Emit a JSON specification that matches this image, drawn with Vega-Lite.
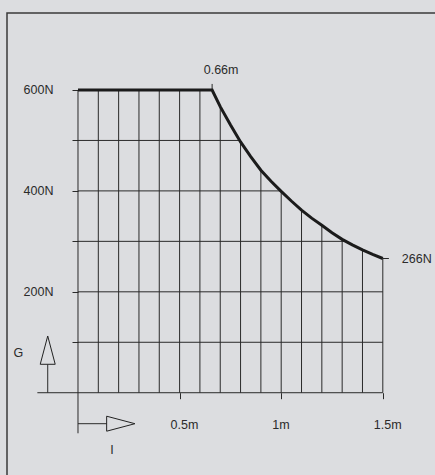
{
  "$schema": "https://vega.github.io/schema/vega-lite/v6.json",
  "width": 428,
  "height": 462,
  "autosize": {"type": "none"},
  "padding": {"left": 7, "top": 13, "right": 0, "bottom": 0},
  "background": "#dcdde0",
  "config": {
    "view": {"stroke": "#3a3a3a", "strokeWidth": 1.5, "strokeDash": [428, 890, 462, 100]},
    "font": "Liberation Sans",
    "text": {"font": "Liberation Sans", "fontSize": 12.5, "color": "#2b2b2b"}
  },
  "datasets": {
    "limit": [
      {"m": 0, "N": 600}, {"m": 0.66, "N": 600}, {"m": 0.7, "N": 567}, {"m": 0.75, "N": 531},
      {"m": 0.8, "N": 497}, {"m": 0.85, "N": 468}, {"m": 0.9, "N": 441}, {"m": 0.95, "N": 419},
      {"m": 1.0, "N": 399}, {"m": 1.05, "N": 380}, {"m": 1.1, "N": 362}, {"m": 1.15, "N": 346},
      {"m": 1.2, "N": 332}, {"m": 1.25, "N": 317}, {"m": 1.3, "N": 304}, {"m": 1.35, "N": 293},
      {"m": 1.4, "N": 283}, {"m": 1.45, "N": 274}, {"m": 1.5, "N": 266}
    ],
    "verticals": [
      {"m": 0, "N": -80.4, "top": 600}, {"m": 0.1, "N": 0, "top": 600}, {"m": 0.2, "N": 0, "top": 600},
      {"m": 0.3, "N": 0, "top": 600}, {"m": 0.4, "N": 0, "top": 600}, {"m": 0.5, "N": 0, "top": 600},
      {"m": 0.6, "N": 0, "top": 600}, {"m": 0.7, "N": 0, "top": 567}, {"m": 0.8, "N": 0, "top": 497},
      {"m": 0.9, "N": 0, "top": 441}, {"m": 1.0, "N": 0, "top": 399}, {"m": 1.1, "N": 0, "top": 362},
      {"m": 1.2, "N": 0, "top": 332}, {"m": 1.3, "N": 0, "top": 304}, {"m": 1.4, "N": 0, "top": 283},
      {"m": 1.5, "N": 0, "top": 266}, {"m": 0.66, "N": 600, "top": 612},
      {"m": -0.149, "N": 0, "top": 56}
    ],
    "horizontals": [
      {"N": 0, "m": -0.2, "reach": 1.5}, {"N": 100, "m": 0, "reach": 1.5}, {"N": 200, "m": 0, "reach": 1.5},
      {"N": 300, "m": 0, "reach": 1.31}, {"N": 400, "m": 0, "reach": 1.0}, {"N": 500, "m": 0, "reach": 0.8},
      {"N": 266, "m": 1.5, "reach": 1.53}, {"N": -61.4, "m": 0, "reach": 0.141}
    ]
  },
  "encoding": {
    "x": {
      "field": "m", "type": "quantitative",
      "scale": {"domain": [-0.3494, 1.7569], "nice": false, "zero": false},
      "axis": {
        "orient": "bottom", "offset": -82.3, "values": [0.5, 1, 1.5],
        "labelExpr": "datum.value + 'm'", "labelAlign": "left", "labelOffset": -9.5,
        "labelFlush": false, "labelPadding": 20, "tickSize": 6, "tickColor": "#2a2a2a",
        "domain": false, "grid": false, "title": null,
        "labelFont": "Liberation Sans", "labelFontSize": 12.5, "labelColor": "#2b2b2b"
      }
    },
    "y": {
      "field": "N", "type": "quantitative",
      "scale": {"domain": [-163.07, 752.6], "nice": false, "zero": false},
      "axis": {
        "orient": "left", "offset": -71, "values": [100, 200, 300, 400, 500, 600],
        "labelExpr": "datum.value % 200 == 0 ? datum.value + 'N' : ''",
        "labelPadding": 19, "tickSize": 6, "tickColor": "#2a2a2a",
        "domain": false, "grid": false, "title": null,
        "labelFont": "Liberation Sans", "labelFontSize": 12.5, "labelColor": "#2b2b2b"
      }
    }
  },
  "layer": [
    {
      "data": {"name": "verticals"},
      "mark": {"type": "rule", "color": "#2a2a2a", "strokeWidth": 1},
      "encoding": {"y2": {"field": "top"}}
    },
    {
      "data": {"name": "horizontals"},
      "mark": {"type": "rule", "color": "#2a2a2a", "strokeWidth": 1},
      "encoding": {"x2": {"field": "reach"}}
    },
    {
      "data": {"name": "limit"},
      "mark": {"type": "line", "color": "#1b1b1b", "strokeWidth": 3, "strokeCap": "butt", "interpolate": "linear"},
      "encoding": {}
    },
    {
      "data": {"values": [{"m": -0.149, "N": 84.4}]},
      "mark": {"type": "point", "shape": "M -0.53 1 L 0 -1 L 0.53 1 Z", "size": 800, "filled": false, "stroke": "#222222", "strokeWidth": 1, "opacity": 1},
      "encoding": {}
    },
    {
      "data": {"values": [{"m": 0.2106, "N": -61.4}]},
      "mark": {"type": "point", "shape": "M -1 -0.53 L 1 0 L -1 0.53 Z", "size": 800, "filled": false, "stroke": "#222222", "strokeWidth": 1, "opacity": 1},
      "encoding": {}
    },
    {
      "data": {"values": [{"m": 0.66, "N": 600, "label": "0.66m"}]},
      "mark": {"type": "text", "align": "center", "baseline": "middle", "dx": 9, "dy": -20},
      "encoding": {"text": {"field": "label"}}
    },
    {
      "data": {"values": [{"m": 1.5, "N": 266, "label": "266N"}]},
      "mark": {"type": "text", "align": "left", "baseline": "middle", "dx": 19},
      "encoding": {"text": {"field": "label"}}
    },
    {
      "data": {"values": [{"m": -0.149, "N": 84.4, "label": "G"}]},
      "mark": {"type": "text", "align": "center", "baseline": "middle", "dx": -29.3, "dy": 3},
      "encoding": {"text": {"field": "label"}}
    },
    {
      "data": {"values": [{"m": 0.2106, "N": -61.4, "label": "I"}]},
      "mark": {"type": "text", "align": "center", "baseline": "middle", "dx": -8.8, "dy": 25.8},
      "encoding": {"text": {"field": "label"}}
    }
  ]
}
